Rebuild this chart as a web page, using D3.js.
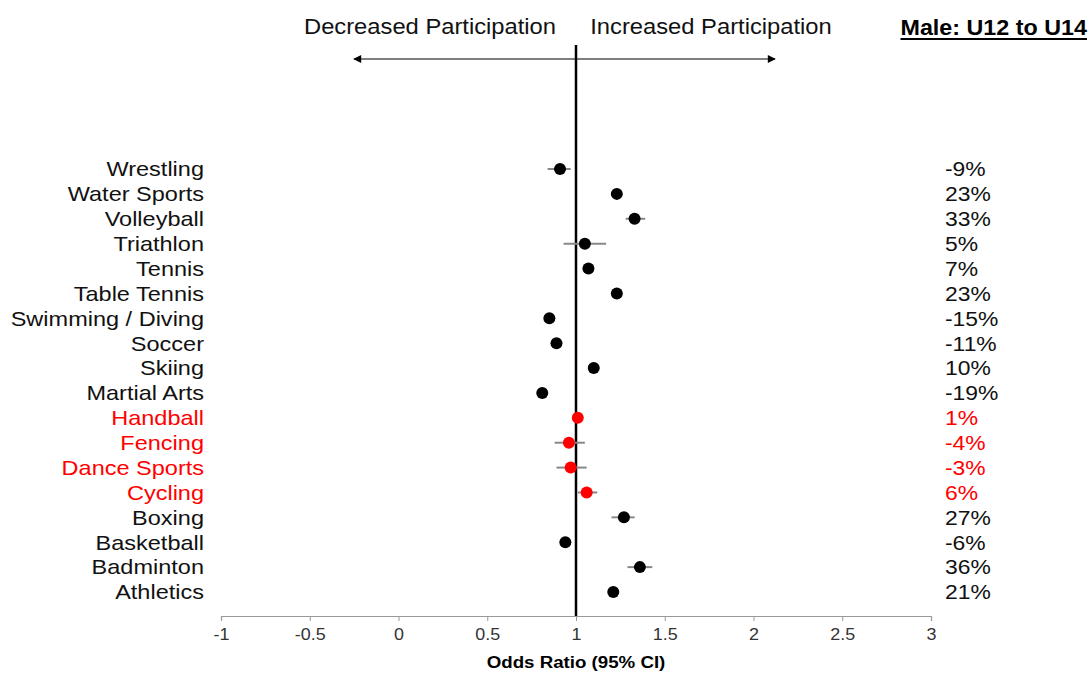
<!DOCTYPE html>
<html>
<head>
<meta charset="utf-8">
<script src="https://cdn.jsdelivr.net/npm/d3@7"></script>
<style>
  body { margin: 0; background: #fff; }
  text { font-family: "Liberation Sans", Arial, sans-serif; }
</style>
</head>
<body>
<div id="chart"></div>
<script>
// sports, top to bottom as drawn
const sports = ["Wrestling", "Water Sports", "Volleyball", "Triathlon", "Tennis", "Table Tennis",
  "Swimming / Diving", "Soccer", "Skiing", "Martial Arts", "Handball", "Fencing", "Dance Sports",
  "Cycling", "Boxing", "Basketball", "Badminton", "Athletics"];
const oddsRatio = [0.91, 1.23, 1.33, 1.05, 1.07, 1.23, 0.85, 0.89, 1.10, 0.81, 1.01, 0.96, 0.97, 1.06, 1.27, 0.94, 1.36, 1.21];
const ciLow  = [0.84, 1.20, 1.28, 0.93, 1.05, 1.21, 0.84, 0.87, 1.08, 0.80, 1.00, 0.88, 0.89, 1.01, 1.20, 0.93, 1.29, 1.19];
const ciHigh = [0.97, 1.26, 1.39, 1.17, 1.09, 1.25, 0.87, 0.91, 1.12, 0.83, 1.03, 1.05, 1.06, 1.12, 1.33, 0.95, 1.43, 1.23];
const pctLabels = ["-9%", "23%", "33%", "5%", "7%", "23%", "-15%", "-11%", "10%", "-19%", "1%", "-4%", "-3%", "6%", "27%", "-6%", "36%", "21%"];
// non-significant rows shown in red
const notSignificant = ["Handball", "Fencing", "Dance Sports", "Cycling"];
const xTicks = [-1, -0.5, 0, 0.5, 1, 1.5, 2, 2.5, 3];

const W = 1091, H = 673;
const RED = "#ff0000";

const svg = d3.select("#chart").append("svg")
  .attr("width", W).attr("height", H);

const x = d3.scaleLinear().domain([-1, 3]).range([221, 931]);
const y = d3.scalePoint().domain(sports).range([169, 592]);
const axisY = 616;

const rows = sports.map((s, i) => ({
  name: s, or: oddsRatio[i], lo: ciLow[i], hi: ciHigh[i], pct: pctLabels[i],
  red: notSignificant.includes(s)
}));

// the original's lettering is a bit wider than Arial, so stretch it sideways
const place = (px, py, sx) => "translate(" + px + "," + py + ") scale(" + sx + ",1)";

// x axis
const xAxis = svg.append("g")
  .attr("transform", "translate(0," + axisY + ")")
  .call(d3.axisBottom(x).tickValues(xTicks).tickSize(5).tickPadding(8)
    .tickFormat(d => String(d)));
xAxis.select(".domain").attr("stroke", "#999").attr("stroke-width", 1.2);
xAxis.selectAll(".tick line").attr("stroke", "#999");
xAxis.selectAll(".tick text")
  .attr("font-size", 16).attr("fill", "#333")
  .attr("transform", "scale(1.12,1)")
  .style("font-family", "'Liberation Sans', Arial, sans-serif");

svg.append("text")
  .attr("transform", place(x(1), 668, 1.1))
  .attr("text-anchor", "middle")
  .attr("font-size", 17).attr("font-weight", "bold")
  .text("Odds Ratio (95% CI)");

// reference line at OR = 1
svg.append("line")
  .attr("x1", x(1)).attr("x2", x(1))
  .attr("y1", 45).attr("y2", axisY)
  .attr("stroke", "#000").attr("stroke-width", 2.5);

// direction arrow
const defs = svg.append("defs");
defs.append("marker")
  .attr("id", "head")
  .attr("viewBox", "0 0 10 10")
  .attr("refX", 9).attr("refY", 5)
  .attr("markerWidth", 10).attr("markerHeight", 8)
  .attr("markerUnits", "userSpaceOnUse")
  .attr("orient", "auto-start-reverse")
  .append("path").attr("d", "M0,0 L10,5 L0,10 z").attr("fill", "#000");

svg.append("line")
  .attr("x1", 354).attr("x2", 775)
  .attr("y1", 59).attr("y2", 59)
  .attr("stroke", "#000").attr("stroke-width", 1.2)
  .attr("marker-start", "url(#head)")
  .attr("marker-end", "url(#head)");

svg.append("text")
  .attr("transform", place(430, 34, 1.08)).attr("text-anchor", "middle")
  .attr("font-size", 22).attr("fill", "#111")
  .text("Decreased Participation");
svg.append("text")
  .attr("transform", place(711, 34, 1.08)).attr("text-anchor", "middle")
  .attr("font-size", 22).attr("fill", "#111")
  .text("Increased Participation");

// panel title
const title = svg.append("text")
  .attr("transform", place(1087, 35, 1.06)).attr("text-anchor", "end")
  .attr("font-size", 22).attr("font-weight", "bold")
  .text("Male: U12 to U14");
const tw = title.node().getComputedTextLength() * 1.06;
svg.append("line")
  .attr("x1", 1087 - tw).attr("x2", 1087)
  .attr("y1", 39).attr("y2", 39)
  .attr("stroke", "#000").attr("stroke-width", 2);

// sport labels
svg.append("g").selectAll("text")
  .data(rows).join("text")
  .attr("transform", d => place(204, y(d.name), 1.12))
  .attr("dy", "0.35em")
  .attr("text-anchor", "end")
  .attr("font-size", 21)
  .attr("fill", d => d.red ? RED : "#111")
  .text(d => d.name);

// percent labels
svg.append("g").selectAll("text")
  .data(rows).join("text")
  .attr("transform", d => place(945, y(d.name), 1.09))
  .attr("dy", "0.35em")
  .attr("font-size", 21)
  .attr("fill", d => d.red ? RED : "#111")
  .text(d => d.pct);

// confidence intervals
svg.append("g").selectAll("line")
  .data(rows).join("line")
  .attr("x1", d => x(d.lo)).attr("x2", d => x(d.hi))
  .attr("y1", d => y(d.name)).attr("y2", d => y(d.name))
  .attr("stroke", "#888").attr("stroke-width", 2);

// point estimates
svg.append("g").selectAll("circle")
  .data(rows).join("circle")
  .attr("cx", d => x(d.or)).attr("cy", d => y(d.name))
  .attr("r", 6)
  .attr("fill", d => d.red ? RED : "#000");
</script>
</body>
</html>
